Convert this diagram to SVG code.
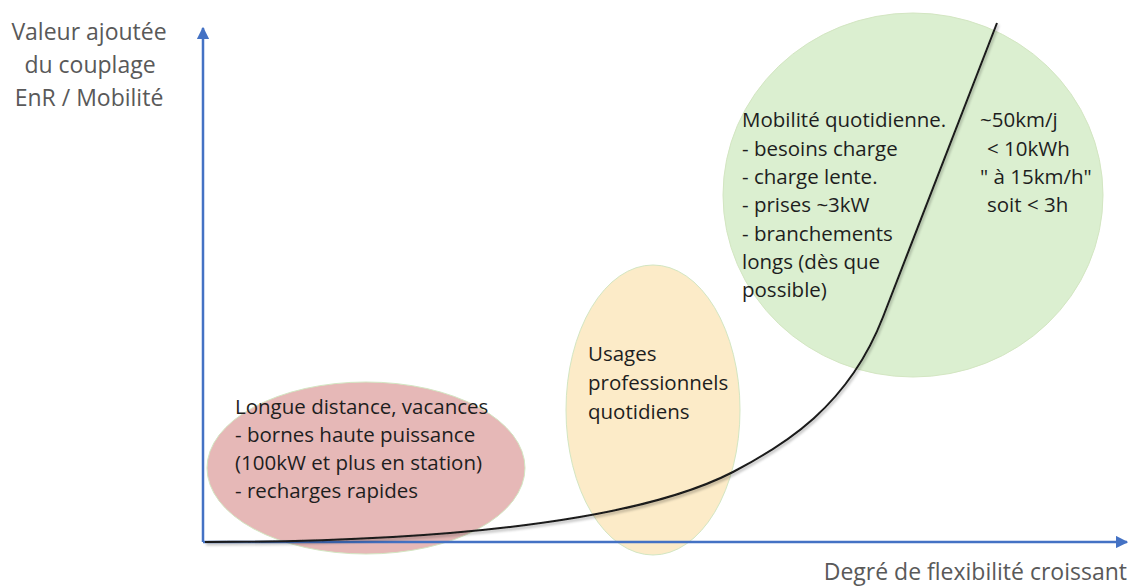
<svg xmlns="http://www.w3.org/2000/svg" width="1131" height="586" viewBox="0 0 1131 586">
  <style>
    .body { font-family: "Open Sans", "Liberation Sans", sans-serif; font-size: 20.5px; fill: #1e1e1e; }
    .axislabel { font-family: "Open Sans", "Liberation Sans", sans-serif; font-size: 23px; fill: #595959; }
    .axis { stroke: #4472c4; stroke-width: 2.5; fill: none; }
    .zone { stroke: #d3e6c2; stroke-width: 1; }
  </style>
  <defs>
    <marker id="arrow" viewBox="0 0 10 10" refX="9" refY="5" markerWidth="5" markerHeight="5" orient="auto" markerUnits="strokeWidth">
      <path d="M0,0 L10,5 L0,10 Z" fill="#4472c4"/>
    </marker>
    <filter id="shadow" x="-5%" y="-5%" width="110%" height="110%">
      <feGaussianBlur in="SourceAlpha" stdDeviation="1.5"/>
      <feOffset dx="1" dy="2" result="b"/>
      <feComponentTransfer><feFuncA type="linear" slope="0.35"/></feComponentTransfer>
      <feMerge><feMergeNode/><feMergeNode in="SourceGraphic"/></feMerge>
    </filter>
  </defs>
  <rect width="1131" height="586" fill="#ffffff"/>

  <g id="zone-longue-distance">
    <ellipse class="zone" cx="366" cy="468" rx="159" ry="86" fill="#e6b8b7"/>
  </g>
  <g id="zone-usages-pro">
    <ellipse class="zone" cx="653" cy="410" rx="87" ry="145" fill="#fcebc8"/>
  </g>
  <g id="zone-mobilite-quotidienne">
    <ellipse class="zone" cx="913" cy="195" rx="190" ry="182" fill="#dbefd0"/>
  </g>

  <g id="connectors">
    <line id="y-axis" class="axis" x1="203" y1="542" x2="203" y2="28" marker-end="url(#arrow)"/>
    <line id="x-axis" class="axis" x1="203" y1="542" x2="1127" y2="542" marker-end="url(#arrow)"/>
    <path id="curve" d="M205,542 C450,542 640,520 733,472 C783,446 848,407 883,317 L997,23" fill="none" stroke="#1a1a1a" stroke-width="2" filter="url(#shadow)"/>
  </g>

  <g id="label-y-axis">
    <text class="axislabel" text-anchor="middle" x="89" y="40">Valeur ajoutée</text>
    <text class="axislabel" text-anchor="middle" x="90" y="73">du couplage</text>
    <text class="axislabel" text-anchor="middle" x="89" y="106">EnR / Mobilité</text>
  </g>
  <g id="label-x-axis">
    <text class="axislabel" text-anchor="end" x="1127" y="580">Degré de flexibilité croissant</text>
  </g>

  <g id="text-longue-distance">
    <text class="body" x="235" y="414">Longue distance, vacances</text>
    <text class="body" x="235" y="442">- bornes haute puissance</text>
    <text class="body" x="235" y="470">(100kW et plus en station)</text>
    <text class="body" x="235" y="498">- recharges rapides</text>
  </g>
  <g id="text-usages-pro">
    <text class="body" x="588" y="361">Usages</text>
    <text class="body" x="588" y="390">professionnels</text>
    <text class="body" x="588" y="419">quotidiens</text>
  </g>
  <g id="text-mobilite">
    <text class="body" x="742" y="127">Mobilité quotidienne.</text>
    <text class="body" x="742" y="156">- besoins charge</text>
    <text class="body" x="742" y="184">- charge lente.</text>
    <text class="body" x="742" y="212">- prises ~3kW</text>
    <text class="body" x="742" y="241">- branchements</text>
    <text class="body" x="742" y="269">longs (dès que</text>
    <text class="body" x="742" y="297">possible)</text>
    <text class="body" x="980" y="127">~50km/j</text>
    <text class="body" x="987" y="156">&lt; 10kWh</text>
    <text class="body" x="980" y="184">" à 15km/h"</text>
    <text class="body" x="987" y="212">soit &lt; 3h</text>
  </g>
</svg>
